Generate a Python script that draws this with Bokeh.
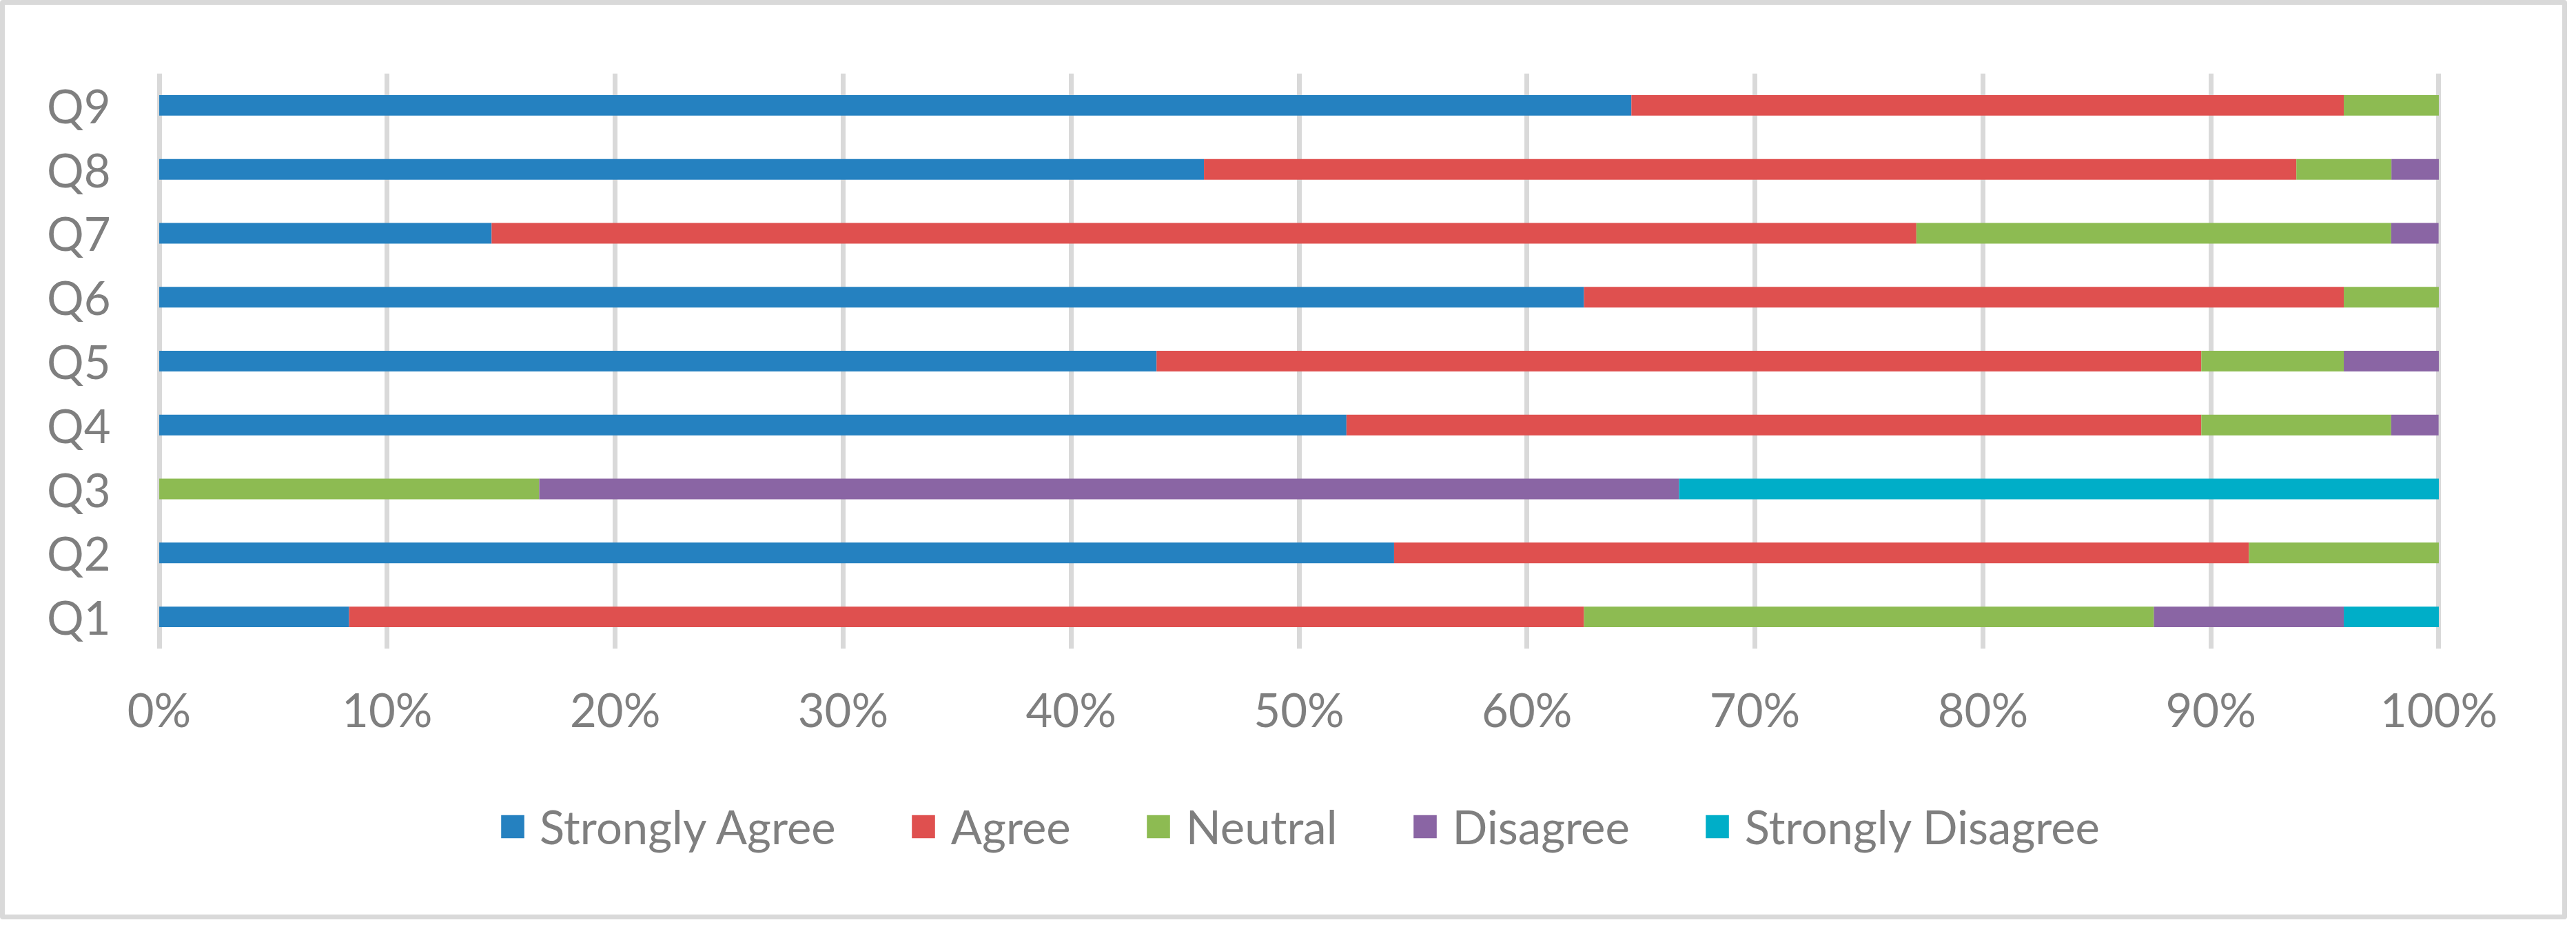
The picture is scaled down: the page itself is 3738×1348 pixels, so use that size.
from bokeh.plotting import figure
from bokeh.layouts import column
from bokeh.models import (ColumnDataSource, FactorRange, Range1d, FixedTicker,
                          PrintfTickFormatter, Legend, LegendItem)
from bokeh.embed import file_html
from bokeh.resources import INLINE

# ---------------- data (percent of respondents) ----------------
questions = ["Q1", "Q2", "Q3", "Q4", "Q5", "Q6", "Q7", "Q8", "Q9"]
strongly_agree = [8.33, 54.17, 0.00, 52.08, 43.75, 62.50, 14.58, 45.83, 64.58]
agree = [54.17, 37.50, 0.00, 37.50, 45.83, 33.33, 62.50, 47.92, 31.25]
neutral = [25.00, 8.33, 16.67, 8.33, 6.25, 4.17, 20.83, 4.17, 4.17]
disagree = [8.33, 0.00, 50.00, 2.08, 4.17, 0.00, 2.08, 2.08, 0.00]
strongly_disagree = [4.17, 0.00, 33.33, 0.00, 0.00, 0.00, 0.00, 0.00, 0.00]

series_names = ["Strongly Agree", "Agree", "Neutral", "Disagree", "Strongly Disagree"]
series_keys = ["sa", "a", "n", "d", "sd"]
colors = ["#2581C0", "#DF504F", "#8DBB52", "#8A65A4", "#00AEC8"]
x_ticks = [0, 10, 20, 30, 40, 50, 60, 70, 80, 90, 100]

source = ColumnDataSource(dict(q=questions, sa=strongly_agree, a=agree,
                               n=neutral, d=disagree, sd=strongly_disagree))

FONT = "Lato"
GRAY = "#7F7F7F"
FS = "67px"
W = 3711
BL, BR = 207, 163

# ---------------- main chart ----------------
p = figure(width=W, height=1092,
           y_range=FactorRange(factors=questions),
           x_range=Range1d(-0.5, 100.5),
           output_backend="svg", toolbar_location=None,
           min_border_left=BL, min_border_right=BR,
           min_border_top=99, min_border_bottom=158)

p.hbar_stack(series_keys, y="q", height=0.323, color=colors,
             line_color=None, source=source)

p.xaxis.ticker = FixedTicker(ticks=x_ticks)
p.xaxis.formatter = PrintfTickFormatter(format="%d%%")
for ax in (p.xaxis, p.yaxis):
    ax.axis_line_color = None
    ax.major_tick_line_color = None
    ax.minor_tick_line_color = None
    ax.major_label_text_font = FONT
    ax.major_label_text_font_size = FS
    ax.major_label_text_color = GRAY
p.xaxis.major_label_standoff = 41
p.yaxis.major_label_standoff = 48

p.xgrid.grid_line_color = "#D9D9D9"
p.xgrid.grid_line_width = 7
p.ygrid.grid_line_color = None
p.outline_line_color = None

# ---------------- legend strip ----------------
# the same series are added here with zero bar height and outside the visible
# x range, so only the legend (which refers to them) is seen
pl = figure(width=W, height=228, x_axis_type=None, y_axis_type=None,
            x_range=Range1d(200, 300), y_range=FactorRange(factors=questions),
            output_backend="svg", toolbar_location=None,
            min_border_left=BL, min_border_right=BR,
            min_border_top=0, min_border_bottom=29)
pl.outline_line_color = None
legend_renderers = pl.hbar_stack(series_keys, y="q", height=0.0, color=colors,
                                 line_color=None, source=source)

legend = Legend(items=[LegendItem(label=name, renderers=[r])
                       for name, r in zip(series_names, legend_renderers)],
                orientation="horizontal", location="center",
                glyph_width=42, glyph_height=42, label_height=42,
                label_standoff=19, spacing=106, padding=0, margin=0,
                border_line_color=None, background_fill_alpha=0,
                label_text_font=FONT, label_text_font_size=FS,
                label_text_color=GRAY)
pl.add_layout(legend, "center")

layout = column(p, pl, spacing=0,
                styles={"border": "7px solid #D9D9D9", "border-radius": "4px"})

open("out.html", "w").write(file_html(layout, INLINE))
